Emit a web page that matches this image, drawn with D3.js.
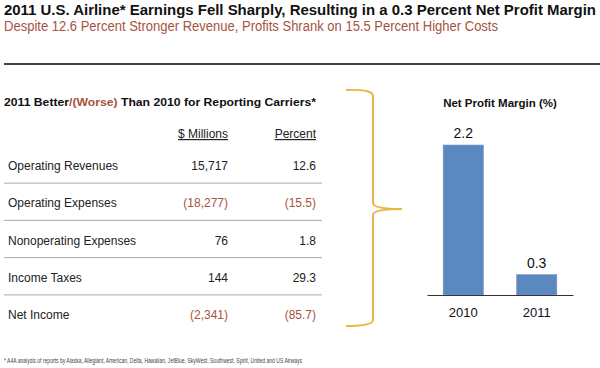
<!DOCTYPE html>
<html>
<head>
<meta charset="utf-8">
<script src="https://cdn.jsdelivr.net/npm/d3@7"></script>
<style>
  body { margin: 0; background: #fff; }
  text { font-family: "Liberation Sans", Arial, sans-serif; }
</style>
</head>
<body>
<svg id="chart" width="600" height="368"></svg>
<script>
// data
const rowLabels = ['Operating Revenues', 'Operating Expenses', 'Nonoperating Expenses', 'Income Taxes', 'Net Income'];
const millions = [15717, -18277, 76, 144, -2341];
const percents = [12.6, -15.5, 1.8, 29.3, -85.7];
const years = ['2010', '2011'];
const margins = [2.2, 0.3];

const brown = '#a5543e';
const ink = '#222';
const svg = d3.select('#chart');

// titles
svg.append('text')
    .attr('x', 4).attr('y', 15)
    .attr('font-size', 14).attr('font-weight', 'bold').attr('fill', '#111')
    .attr('textLength', 592).attr('lengthAdjust', 'spacingAndGlyphs')
    .text('2011 U.S. Airline* Earnings Fell Sharply, Resulting in a 0.3 Percent Net Profit Margin');

svg.append('text')
    .attr('x', 4).attr('y', 31)
    .attr('font-size', 14).attr('fill', brown)
    .attr('textLength', 494).attr('lengthAdjust', 'spacingAndGlyphs')
    .text('Despite 12.6 Percent Stronger Revenue, Profits Shrank on 15.5 Percent Higher Costs');

svg.append('line')
    .attr('x1', 4).attr('x2', 600).attr('y1', 64).attr('y2', 64)
    .attr('stroke', '#444').attr('stroke-width', 2);

// table
const head = svg.append('text')
    .attr('x', 4).attr('y', 106)
    .attr('font-size', 11.5).attr('font-weight', 'bold').attr('fill', '#111')
    .attr('textLength', 312).attr('lengthAdjust', 'spacingAndGlyphs');
head.append('tspan').text('2011 Better');
head.append('tspan').attr('fill', brown).text('/(Worse)');
head.append('tspan').text(' Than 2010 for Reporting Carriers*');

const colM = 228, colP = 316;
[['$ Millions', colM], ['Percent', colP]].forEach(([t, x]) => {
    svg.append('text')
        .attr('x', x).attr('y', 138)
        .attr('text-anchor', 'end')
        .attr('font-size', 12).attr('fill', ink)
        .attr('text-decoration', 'underline')
        .text(t);
});

const rowY = d3.scalePoint()
    .domain(rowLabels)
    .range([170, 319]);

const fmtM = d3.format(',');
const fmtP = d3.format('.1f');
const paren = (v, f) => v < 0 ? '(' + f(-v) + ')' : f(v);

const rows = svg.selectAll('g.row')
    .data(rowLabels.map((l, i) => ({ label: l, m: millions[i], p: percents[i] })))
    .enter()
    .append('g')
    .attr('class', 'row')
    .attr('transform', d => `translate(0,${rowY(d.label)})`);

rows.append('text')
    .attr('x', 8)
    .attr('font-size', 12).attr('fill', ink)
    .text(d => d.label);

rows.append('text')
    .attr('x', colM).attr('text-anchor', 'end')
    .attr('font-size', 12)
    .attr('fill', d => d.m < 0 ? brown : ink)
    .text(d => paren(d.m, fmtM));

rows.append('text')
    .attr('x', colP).attr('text-anchor', 'end')
    .attr('font-size', 12)
    .attr('fill', d => d.p < 0 ? brown : ink)
    .text(d => paren(d.p, fmtP));

const step = rowY.step();
svg.selectAll('line.sep')
    .data(rowLabels.slice(0, -1))
    .enter()
    .append('line')
    .attr('class', 'sep')
    .attr('x1', 4).attr('x2', 322)
    .attr('y1', d => rowY(d) + step / 2 - 5.5)
    .attr('y2', d => rowY(d) + step / 2 - 5.5)
    .attr('stroke', '#aaa').attr('stroke-width', 1);

// bracket
const bp = d3.path();
bp.moveTo(346, 90);
bp.quadraticCurveTo(373, 89, 373, 96);
bp.lineTo(373, 203);
bp.quadraticCurveTo(373, 209, 402, 209);
bp.quadraticCurveTo(373, 209, 373, 215);
bp.lineTo(373, 320);
bp.quadraticCurveTo(373, 326, 346, 326);
svg.append('path')
    .attr('d', bp.toString())
    .attr('fill', 'none')
    .attr('stroke', '#e8b647').attr('stroke-width', 2);

// bar chart
svg.append('text')
    .attr('x', 500).attr('y', 107)
    .attr('text-anchor', 'middle')
    .attr('font-size', 11.5).attr('font-weight', 'bold').attr('fill', '#111')
    .text('Net Profit Margin (%)');

const x = d3.scaleBand()
    .domain(years)
    .range([427, 573])
    .paddingInner(0.45)
    .paddingOuter(0.22);

const y = d3.scaleLinear()
    .domain([0, 2.2])
    .range([295, 145]);

svg.selectAll('rect.bar')
    .data(years.map((yr, i) => ({ yr, v: margins[i] })))
    .enter()
    .append('rect')
    .attr('class', 'bar')
    .attr('x', d => x(d.yr))
    .attr('y', d => y(d.v))
    .attr('width', x.bandwidth())
    .attr('height', d => y(0) - y(d.v))
    .attr('fill', '#5b88be')
    .attr('stroke', '#7fa3cf').attr('stroke-width', 0.6);

svg.selectAll('text.val')
    .data(years.map((yr, i) => ({ yr, v: margins[i] })))
    .enter()
    .append('text')
    .attr('class', 'val')
    .attr('x', d => x(d.yr) + x.bandwidth() / 2)
    .attr('y', d => y(d.v) - 7)
    .attr('text-anchor', 'middle')
    .attr('font-size', 14).attr('fill', '#111')
    .text(d => fmtP(d.v));

const xAxis = svg.append('g')
    .attr('transform', `translate(0,${y(0)})`)
    .call(d3.axisBottom(x).tickSize(0).tickPadding(13).tickSizeOuter(0));
xAxis.select('.domain').attr('stroke', '#333').attr('stroke-width', 1.2);
xAxis.selectAll('text')
    .attr('font-size', 13).attr('fill', '#111')
    .attr('font-family', '"Liberation Sans", Arial, sans-serif');

// footnote
svg.append('text')
    .attr('x', 4).attr('y', 363)
    .attr('font-size', 7).attr('fill', '#444')
    .attr('textLength', 298).attr('lengthAdjust', 'spacingAndGlyphs')
    .text('* A4A analysis of reports by Alaska, Allegiant, American, Delta, Hawaiian, JetBlue, SkyWest, Southwest, Spirit, United and US Airways');
</script>
</body>
</html>
